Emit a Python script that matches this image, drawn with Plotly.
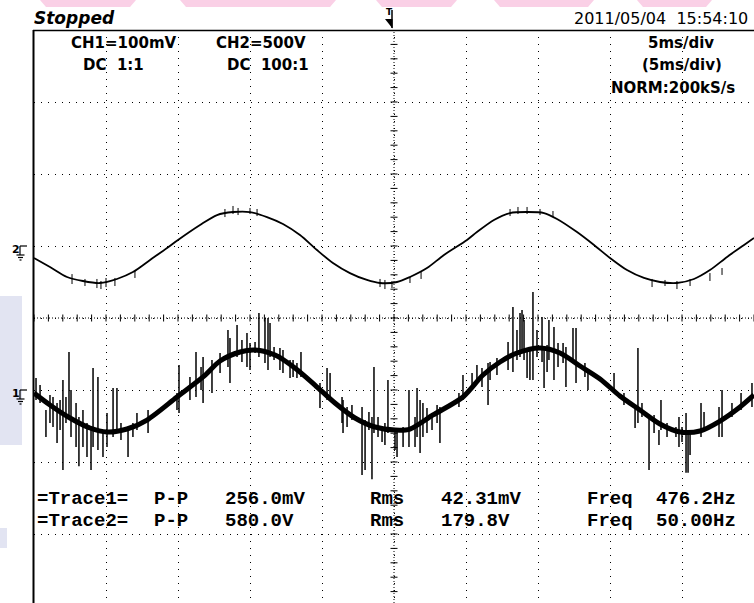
import plotly.graph_objects as go

# ---------------- data (read from the oscilloscope screen) ----------------
# time axis in ms (5 ms/div, 10 divisions), screen rows in divisions
ch1_t = [-25.0, -23.89, -22.5, -21.11, -19.93, -18.54, -17.15, -15.07, -13.26, -12.08,
         -10.69, -9.65, -8.26, -6.88, -5.49, -4.10, -2.71, -1.32, 0.07, 1.11,
         2.71, 4.79, 6.18, 7.36, 8.54, 10.14, 11.53, 12.92, 14.31, 15.69,
         17.08, 18.47, 19.86, 21.25, 22.64, 24.03, 25.0]
ch1_mv = [-4.2, -20.8, -38.9, -52.8, -58.3, -54.2, -41.7, -9.7, 18.1, 40.3,
          52.8, 55.6, 48.6, 30.6, 6.9, -18.1, -38.9, -51.4, -55.6, -54.2,
          -34.7, -9.7, 20.8, 38.9, 51.4, 58.3, 51.4, 33.3, 15.3, -8.3,
          -27.8, -47.2, -58.3, -56.9, -43.1, -23.6, -6.9]

# CH1 noise spikes: time (ms), top (mV), bottom (mV)
spk1_t = [-24.86, -24.58, -24.17, -23.89, -23.68, -23.40, -23.19, -22.99, -22.78, -22.57,
          -22.43, -22.08, -21.88, -21.60, -21.32, -21.04, -20.90, -20.56, -20.21, -19.93,
          -19.51, -19.24, -18.96, -18.47, -18.13, -17.85, -17.08, -15.07, -14.93, -14.17,
          -13.75, -13.40, -13.26, -12.64, -12.08, -11.53, -11.39, -10.90, -10.56, -10.21,
          -10.0, -9.65, -9.38, -8.96, -8.75, -8.61, -8.33, -7.92, -7.71, -7.22,
          -7.01, -6.74, -6.46, -5.14, -4.65, -4.44, -3.61, -3.54, -3.26, -2.92,
          -2.22, -2.01, -1.74, -1.53, -1.39, -1.11, -0.83, -0.63, -0.42, 0.07,
          0.21, 0.63, 1.04, 1.46, 1.60, 1.81, 2.01, 2.29, 2.64, 2.99,
          3.19, 4.51, 4.79, 5.42, 5.76, 6.11, 6.53, 6.67, 7.15, 7.92,
          8.26, 8.54, 8.75, 8.89, 9.03, 9.24, 9.44, 9.65, 9.93, 10.28,
          10.42, 10.63, 10.76, 11.11, 11.39, 11.74, 11.94, 12.43, 12.64, 13.26,
          13.47, 15.28, 15.97, 16.74, 16.94, 17.22, 17.71, 18.06, 18.40, 18.54,
          18.96, 19.58, 19.79, 20.0, 20.28, 20.42, 20.56, 21.32, 21.53, 22.57,
          22.78, 23.47, 24.10, 24.86]
spk1_hi = [16.7, 6.9, -27.8, -6.9, -9.7, -18.1, -13.9, 13.9, -9.7, 52.8,
           0.0, -18.1, -37.5, -27.8, -45.8, -51.4, 30.6, 18.1, -55.6, -31.9,
           2.8, 2.8, -45.8, -51.4, -45.8, -31.9, -27.8, -4.2, 34.7, 18.1,
           52.8, 31.9, 45.8, 41.7, 51.4, 83.3, 72.2, 90.3, 69.4, 79.2,
           65.3, 66.7, 106.9, 100.0, 100.0, 93.1, 59.7, 58.3, 55.6, 41.7,
           41.7, 37.5, 52.8, 9.7, 30.6, 23.6, -9.7, -13.9, -23.6, -20.8,
           -23.6, -41.7, -30.6, -37.5, 31.9, -37.5, -55.6, -45.8, 13.9, -55.6,
           -55.6, -51.4, 0.0, -37.5, 2.8, -13.9, -18.1, -25.0, -37.5, -20.8,
           -23.6, -4.2, 20.8, 23.6, 34.7, 30.6, 37.5, 38.9, 44.4, 66.7,
           115.3, 83.3, 106.9, 111.1, 97.2, 55.6, 58.3, 136.1, 83.3, 101.4,
           55.6, 62.5, 97.2, 87.5, 65.3, 65.3, 59.7, 86.1, 86.1, 37.5,
           25.0, 23.6, -4.2, -23.6, 58.3, -18.1, -34.7, -34.7, -55.6, -13.9,
           -45.8, -51.4, -37.5, -51.4, -31.9, -55.6, -55.6, -18.1, -30.6, -23.6,
           0.0, -18.1, -4.2, 9.7]
spk1_lo = [-13.9, -18.1, -65.3, -45.8, -51.4, -73.6, -55.6, -111.0, -45.8, -37.5,
           -65.3, -79.2, -106.0, -79.2, -93.1, -111.0, -79.2, -83.3, -93.1, -79.2,
           -65.3, -59.7, -69.4, -93.1, -65.3, -55.6, -59.7, -27.8, -31.9, -13.9,
           -9.7, 0.0, -18.1, -4.2, 23.6, 31.9, 9.7, 45.8, 38.9, 31.9,
           27.8, 51.4, 45.8, 37.5, 27.8, 45.8, 41.7, 27.8, 23.6, 16.7,
           18.1, 16.7, 18.1, -25.0, -13.9, -9.7, -45.8, -59.7, -51.4, -41.7,
           -118.0, -111.0, -55.6, -124.0, -59.7, -65.3, -72.2, -76.4, -59.7, -83.3,
           -93.1, -79.2, -79.2, -79.2, -65.3, -87.5, -65.3, -59.7, -55.6, -45.8,
           -73.6, -23.6, -13.9, 0.0, 9.7, 4.2, -20.8, 13.9, 20.8, 27.8,
           25.0, 41.7, 45.8, 51.4, 41.7, 16.7, 13.9, 13.9, 45.8, 38.9,
           2.8, 25.0, 41.7, 13.9, 31.9, 37.5, 4.2, 41.7, 9.7, 18.1,
           0.0, -4.2, -20.8, -52.8, -45.8, -37.5, -111.0, -59.7, -76.4, -55.6,
           -65.3, -65.3, -79.2, -72.2, -115.0, -115.0, -90.3, -65.3, -52.8, -65.3,
           -65.3, -37.5, -27.8, -23.6]

ch2_t = [-25.0, -23.89, -22.71, -21.60, -20.42, -19.24, -18.13, -16.94, -15.76, -15.0,
         -13.47, -12.29, -11.18, -10.0, -8.82, -7.71, -6.53, -5.35, -4.24, -3.06,
         -1.88, -0.97, 0.21, 1.11, 2.29, 3.47, 5.07, 5.76, 6.94, 8.06,
         9.24, 10.42, 11.32, 12.71, 13.89, 15.0, 16.18, 17.36, 18.47, 19.65,
         20.83, 21.94, 23.13, 24.31, 25.0]
ch2_v = [-83, -146, -215, -243, -257, -229, -181, -97, -14, 42,
         146, 215, 236, 236, 201, 153, 76, -28, -118, -188,
         -236, -257, -250, -215, -153, -62, 42, 97, 181, 229,
         236, 229, 188, 97, 7, -83, -167, -222, -250, -257,
         -229, -167, -76, 7, 56]

# CH2 small jitter: time (ms), top (V), bottom (V)
spk2_t = [-22.36, -21.46, -20.63, -20.35, -20.0, -19.38, -17.99, -11.74, -11.18, -10.83,
          -10.0, -9.51, -0.97, -0.63, -0.14, 1.11, 1.88, 8.06, 8.61, 9.24,
          10.14, 11.04, 17.92, 18.82, 19.65, 20.56, 21.94, 22.78]
spk2_hi = [-195, -229, -229, -243, -222, -222, -174, 257, 278, 264,
           264, 257, -229, -236, -243, -215, -174, 257, 271, 271,
           257, 243, -229, -236, -243, -229, -188, -153]
spk2_lo = [-264, -278, -292, -299, -285, -278, -222, 201, 222, 215,
           222, 208, -285, -299, -292, -257, -229, 208, 222, 222,
           215, 201, -285, -278, -299, -278, -243, -201]

# screen settings
ch1_scale_mv = 100     # mV/div
ch1_pos_div = -1       # ground marker position (div)
ch2_scale_v = 500      # V/div
ch2_pos_div = 1
time_div_ms = 5
n_hdiv = 10
n_vdiv = 8

status_text = "Stopped"
date_text = "2011/05/04  15:54:10"
ch1_info = ["CH1=100mV", "DC  1:1"]
ch2_info = ["CH2=500V", "DC  100:1"]
time_info = ["5ms/div", "(5ms/div)", "NORM:200kS/s"]
meas_names = ["=Trace1=", "=Trace2="]
meas_pp = ["256.0mV", "580.0V"]
meas_rms = ["42.31mV", "179.8V"]
meas_freq = ["476.2Hz", "50.00Hz"]

# ---------------- figure ----------------
W, H = 754, 603
LEFT, TOP, DIVPX = 34, 30, 72
ymin_div = -n_vdiv / 2 + (TOP + n_vdiv * DIVPX - H) / DIVPX
ymax_div = n_vdiv / 2
xhalf = n_hdiv / 2 * time_div_ms


def px(x):
    return x / W


def py(y):
    return 1 - y / H


def div_to_py(d):
    return TOP + (ymax_div - d) * DIVPX


def seg(ts, his, los):
    xs, ys = [], []
    for t, a, b in zip(ts, his, los):
        xs += [t, t, None]
        ys += [a, b, None]
    return xs, ys


fig = go.Figure()

# tick marks on centre lines
tick_x = [i * time_div_ms / 5 for i in range(-n_hdiv * 5 // 2, n_hdiv * 5 // 2 + 1)]
fig.add_trace(go.Scatter(x=tick_x, y=[0] * len(tick_x), mode="markers",
                         marker=dict(symbol="line-ns", size=5, line=dict(width=1, color="black")),
                         hoverinfo="skip"))
tick_y = [i / 5 for i in range(-n_vdiv * 5 // 2, n_vdiv * 5 // 2 + 1)]
fig.add_trace(go.Scatter(x=[0] * len(tick_y), y=tick_y, mode="markers",
                         marker=dict(symbol="line-ew", size=5, line=dict(width=1, color="black")),
                         hoverinfo="skip"))

# CH2
fig.add_trace(go.Scatter(x=ch2_t, y=ch2_v, yaxis="y3", mode="lines",
                         line=dict(color="black", width=1.8, shape="spline", smoothing=0.8)))
sx, sy = seg(spk2_t, spk2_hi, spk2_lo)
fig.add_trace(go.Scatter(x=sx, y=sy, yaxis="y3", mode="lines",
                         line=dict(color="black", width=1)))
# CH1
fig.add_trace(go.Scatter(x=ch1_t, y=ch1_mv, yaxis="y2", mode="lines",
                         line=dict(color="black", width=5, shape="spline", smoothing=0.8)))
sx, sy = seg(spk1_t, spk1_hi, spk1_lo)
fig.add_trace(go.Scatter(x=sx, y=sy, yaxis="y2", mode="lines",
                         line=dict(color="black", width=1.5)))

grid_common = dict(showgrid=True, gridcolor="black", gridwidth=1.2, griddash="1.2px,5.8px",
                   zeroline=False, showticklabels=False, ticks="", showline=False, fixedrange=True)
ydom_top = (H - TOP) / H
fig.update_layout(
    width=W, height=H, margin=dict(l=0, r=0, t=0, b=0),
    paper_bgcolor="white", plot_bgcolor="white", showlegend=False,
    xaxis=dict(domain=[LEFT / W, 1], range=[-xhalf, xhalf], tick0=-xhalf, dtick=time_div_ms, **grid_common),
    yaxis=dict(domain=[0, ydom_top], range=[ymin_div, ymax_div], tick0=0, dtick=1, **grid_common),
    yaxis2=dict(overlaying="y", visible=False, fixedrange=True,
                range=[(ymin_div - ch1_pos_div) * ch1_scale_mv, (ymax_div - ch1_pos_div) * ch1_scale_mv]),
    yaxis3=dict(overlaying="y", visible=False, fixedrange=True,
                range=[(ymin_div - ch2_pos_div) * ch2_scale_v, (ymax_div - ch2_pos_div) * ch2_scale_v]),
)

shapes = []
# watermark remnants
pink = "#fad0e6"
for x0, x1 in [(40, 136), (180, 336), (376, 457), (494, 594), (637, 712)]:
    shapes.append(dict(type="path", xref="paper", yref="paper", layer="below",
                       path=f"M {px(x0)} {py(0)} L {px(x1)} {py(0)} L {px(x1 - 6)} {py(7)} L {px(x0 + 6)} {py(7)} Z",
                       fillcolor=pink, line=dict(width=0)))
lav = "#e2e4f2"
for y0, y1, x1 in [(296, 445, 22), (528, 548, 7)]:
    shapes.append(dict(type="rect", xref="paper", yref="paper", x0=0, x1=px(x1),
                       y0=py(y1), y1=py(y0), fillcolor=lav, line=dict(width=0), layer="below"))
# centre lines
shapes.append(dict(type="line", xref="x", yref="y", x0=0, x1=0, y0=ymin_div, y1=ymax_div,
                   line=dict(color="black", width=1, dash="1px,2px")))
shapes.append(dict(type="line", xref="x", yref="y", x0=-xhalf, x1=xhalf, y0=0, y1=0,
                   line=dict(color="black", width=1, dash="1px,2px")))
# frame
shapes.append(dict(type="line", xref="paper", yref="paper", x0=px(33), x1=1, y0=py(30.5), y1=py(30.5),
                   line=dict(color="black", width=1.5)))
shapes.append(dict(type="line", xref="paper", yref="paper", x0=px(33.5), x1=px(33.5), y0=0, y1=py(30),
                   line=dict(color="black", width=2)))
# trigger marker
shapes.append(dict(type="line", xref="paper", yref="paper", x0=px(392), x1=px(392), y0=py(10), y1=py(28),
                   line=dict(color="black", width=1.5)))
shapes.append(dict(type="path", xref="paper", yref="paper",
                   path=f"M {px(385)} {py(19)} L {px(392.5)} {py(19)} L {px(392.5)} {py(28.5)} Z",
                   fillcolor="black", line=dict(width=0)))
# ground markers
for pos in (ch1_pos_div, ch2_pos_div):
    g = div_to_py(pos)
    for (xa, ya, xb, yb) in [(20, g, 27, g), (20, g, 20, g + 9), (16.5, g + 9, 24.5, g + 9),
                             (18, g + 11.5, 23, g + 11.5), (19.5, g + 14, 21.5, g + 14)]:
        shapes.append(dict(type="line", xref="paper", yref="paper", x0=px(xa), x1=px(xb),
                           y0=py(ya), y1=py(yb), line=dict(color="black", width=1.2)))
fig.update_layout(shapes=shapes)

ann = []


def text(s, x, y, anchor="left", size=14, family="DejaVu Sans", color="black"):
    ann.append(dict(text=s, x=px(x), y=py(y), xref="paper", yref="paper", showarrow=False,
                    xanchor=anchor, yanchor="middle", font=dict(size=size, family=family, color=color)))


text(f"<b><i>{status_text}</i></b>", 32, 18, size=17)
text(date_text, 750, 19, anchor="right", size=16)
text("<b>T</b>", 384, 12, size=9)
text("<b>2</b>", 10, div_to_py(ch2_pos_div) + 3, size=11)
text("<b>1</b>", 10, div_to_py(ch1_pos_div) + 3, size=11)

info_font = "DejaVu Sans"
text(f"<b>{ch1_info[0]}</b>", 69, 43, size=15, family=info_font)
text(f"<b>{ch1_info[1]}</b>", 81, 65, size=15, family=info_font)
text(f"<b>{ch2_info[0]}</b>", 214, 43, size=15, family=info_font)
text(f"<b>{ch2_info[1]}</b>", 225, 65, size=15, family=info_font)
text(f"<b>{time_info[0]}</b>", 681, 43, anchor="center", size=15, family=info_font)
text(f"<b>{time_info[1]}</b>", 682, 65, anchor="center", size=15, family=info_font)
text(f"<b>{time_info[2]}</b>", 673, 88, anchor="center", size=15, family=info_font)

mf = "Liberation Mono"
for i, yy in enumerate([499, 521]):
    text(f"<b>{meas_names[i]}</b>", 35, yy, size=19, family=mf)
    text("<b>P-P</b>", 152, yy, size=19, family=mf)
    text(f"<b>{meas_pp[i]}</b>", 223, yy, size=19, family=mf)
    text("<b>Rms</b>", 368, yy, size=19, family=mf)
    text(f"<b>{meas_rms[i]}</b>", 439, yy, size=19, family=mf)
    text("<b>Freq</b>", 585, yy, size=19, family=mf)
    text(f"<b>{meas_freq[i]}</b>", 654, yy, size=19, family=mf)

fig.update_layout(annotations=ann)
fig.write_html("out.html")
